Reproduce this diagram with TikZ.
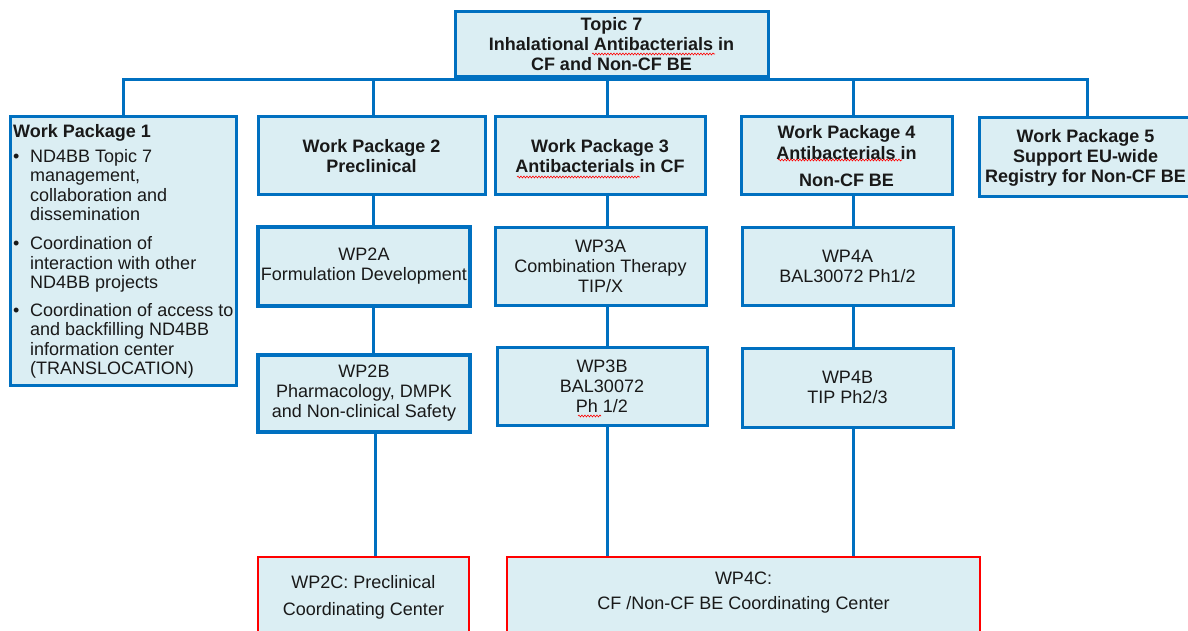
\documentclass[tikz,border=0pt]{standalone}
\usepackage{fontspec}
\setmainfont{Liberation Sans}
\usetikzlibrary{decorations.pathmorphing}
\definecolor{lineblue}{RGB}{0,112,192}
\definecolor{boxfill}{RGB}{219,238,243}
\definecolor{redline}{RGB}{255,0,0}
\definecolor{inktext}{RGB}{25,25,25}
\begin{document}
\begin{tikzpicture}[x=1pt,y=-1pt,
  box/.style={draw=lineblue, fill=boxfill, line width=3pt, rectangle, inner sep=0pt,
    align=center, text=inktext, font=\fontsize{18}{20}\selectfont},
  thickbox/.style={box, line width=4.5pt},
  redbox/.style={box, draw=redline, line width=2.5pt},
  boldtext/.style={font=\fontsize{18}{20}\selectfont\bfseries},
  conn/.style={draw=lineblue, line width=3pt},
  spell/.style={draw=redline, line width=0.6pt, decorate,
    decoration={snake, amplitude=0.9pt, segment length=3pt}}]
\useasboundingbox[fill=white] (0,0) rectangle (1188,631);

% boxes
\node[box, boldtext, minimum width=313pt, minimum height=65pt] (topic) at (611.5,44.5)
  {Topic 7\\Inhalational Antibacterials in\\CF and Non-CF BE};
\node[box, minimum width=226pt, minimum height=268pt] (wp1) at (123,251) {};
\node[anchor=north west, align=left, inner sep=0pt, text=inktext,
  font=\fontsize{18}{19.3}\selectfont] (wp1text) at (13,124)
  {\textbf{Work Package 1}\\[6pt]
   \makebox[17pt][l]{•}ND4BB Topic 7\\
   \hspace*{17pt}management,\\
   \hspace*{17pt}collaboration and\\
   \hspace*{17pt}dissemination\\[10pt]
   \makebox[17pt][l]{•}Coordination of\\
   \hspace*{17pt}interaction with other\\
   \hspace*{17pt}ND4BB projects\\[9pt]
   \makebox[17pt][l]{•}Coordination of access to\\
   \hspace*{17pt}and backfilling ND4BB\\
   \hspace*{17pt}information center\\
   \hspace*{17pt}(TRANSLOCATION)};
\node[box, boldtext, minimum width=227pt, minimum height=78pt] (wp2) at (371.5,156)
  {Work Package 2\\Preclinical};
\node[box, boldtext, minimum width=210pt, minimum height=78pt] (wp3) at (600,156)
  {Work Package 3\\Antibacterials in CF};
\node[box, boldtext, minimum width=211pt, minimum height=78pt,
  font=\fontsize{18}{21}\selectfont\bfseries] (wp4) at (846.5,156)
  {Work Package 4\\Antibacterials in\\[6pt]Non-CF BE};
\node[box, boldtext, minimum width=213pt, minimum height=79pt] (wp5) at (1085.5,157.5)
  {Work Package 5\\Support EU-wide\\Registry for Non-CF BE};

\node[thickbox, minimum width=212pt, minimum height=79pt] (wp2a) at (364,266.5)
  {WP2A\\Formulation Development};
\node[thickbox, minimum width=212pt, minimum height=77pt] (wp2b) at (364,393.5)
  {WP2B\\Pharmacology, DMPK\\and Non-clinical Safety};
\node[box, minimum width=211pt, minimum height=78pt] (wp3a) at (600.5,266)
  {WP3A\\Combination Therapy\\TIP/X};
\node[box, minimum width=210pt, minimum height=78pt] (wp3b) at (602,386)
  {WP3B\\BAL30072\\Ph 1/2};
\node[box, minimum width=211pt, minimum height=78pt] (wp4a) at (847.5,266)
  {WP4A\\BAL30072 Ph1/2};
\node[box, minimum width=211pt, minimum height=79pt] (wp4b) at (847.5,387.5)
  {WP4B\\TIP Ph2/3};

\node[redbox, minimum width=211pt, minimum height=83pt] (wp2c) at (363.5,598.5) {};
\node[align=center, inner sep=0pt, text=inktext, font=\fontsize{18}{27}\selectfont]
  (wp2ctext) at (363.5,597) {WP2C: Preclinical\\Coordinating Center};
\node[redbox, minimum width=473pt, minimum height=83pt] (wp4c) at (743.5,598.5) {};
\node[align=center, inner sep=0pt, text=inktext, font=\fontsize{18}{25}\selectfont]
  (wp4ctext) at (743.5,593) {WP4C:\\CF /Non-CF BE Coordinating Center};

% connectors
\coordinate (b1) at (123,80);
\coordinate (b2) at (373,80);
\coordinate (b3) at (607,80);
\coordinate (b4) at (853,80);
\coordinate (b5) at (1087,80);
\draw[conn] (wp1.north) -- (b1) -- (b5) -- (b5 |- wp5.north);
\draw[conn] (topic.south -| b3) -- (b3);
\draw[conn] (b2) -- (b2 |- wp2.north);
\draw[conn] (b3) -- (b3 |- wp3.north);
\draw[conn] (b4) -- (b4 |- wp4.north);
\draw[conn] (b2 |- wp2.south) -- (b2 |- wp2a.north);
\draw[conn] (b2 |- wp2a.south) -- (b2 |- wp2b.north);
\coordinate (c2) at (375,0);
\draw[conn] (c2 |- wp2b.south) -- (c2 |- wp2c.north);
\draw[conn] (b3 |- wp3.south) -- (b3 |- wp3a.north);
\draw[conn] (b3 |- wp3a.south) -- (b3 |- wp3b.north);
\draw[conn] (b3 |- wp3b.south) -- (b3 |- wp4c.north);
\draw[conn] (b4 |- wp4.south) -- (b4 |- wp4a.north);
\draw[conn] (b4 |- wp4a.south) -- (b4 |- wp4b.north);
\draw[conn] (b4 |- wp4b.south) -- (b4 |- wp4c.north);

% spell-check underlines
\draw[spell] (592,54) -- (715,54);
\draw[spell] (517,177) -- (640,177);
\draw[spell] (778,160) -- (902,160);
\draw[spell] (578,416) -- (601,416);
\end{tikzpicture}
\end{document}
